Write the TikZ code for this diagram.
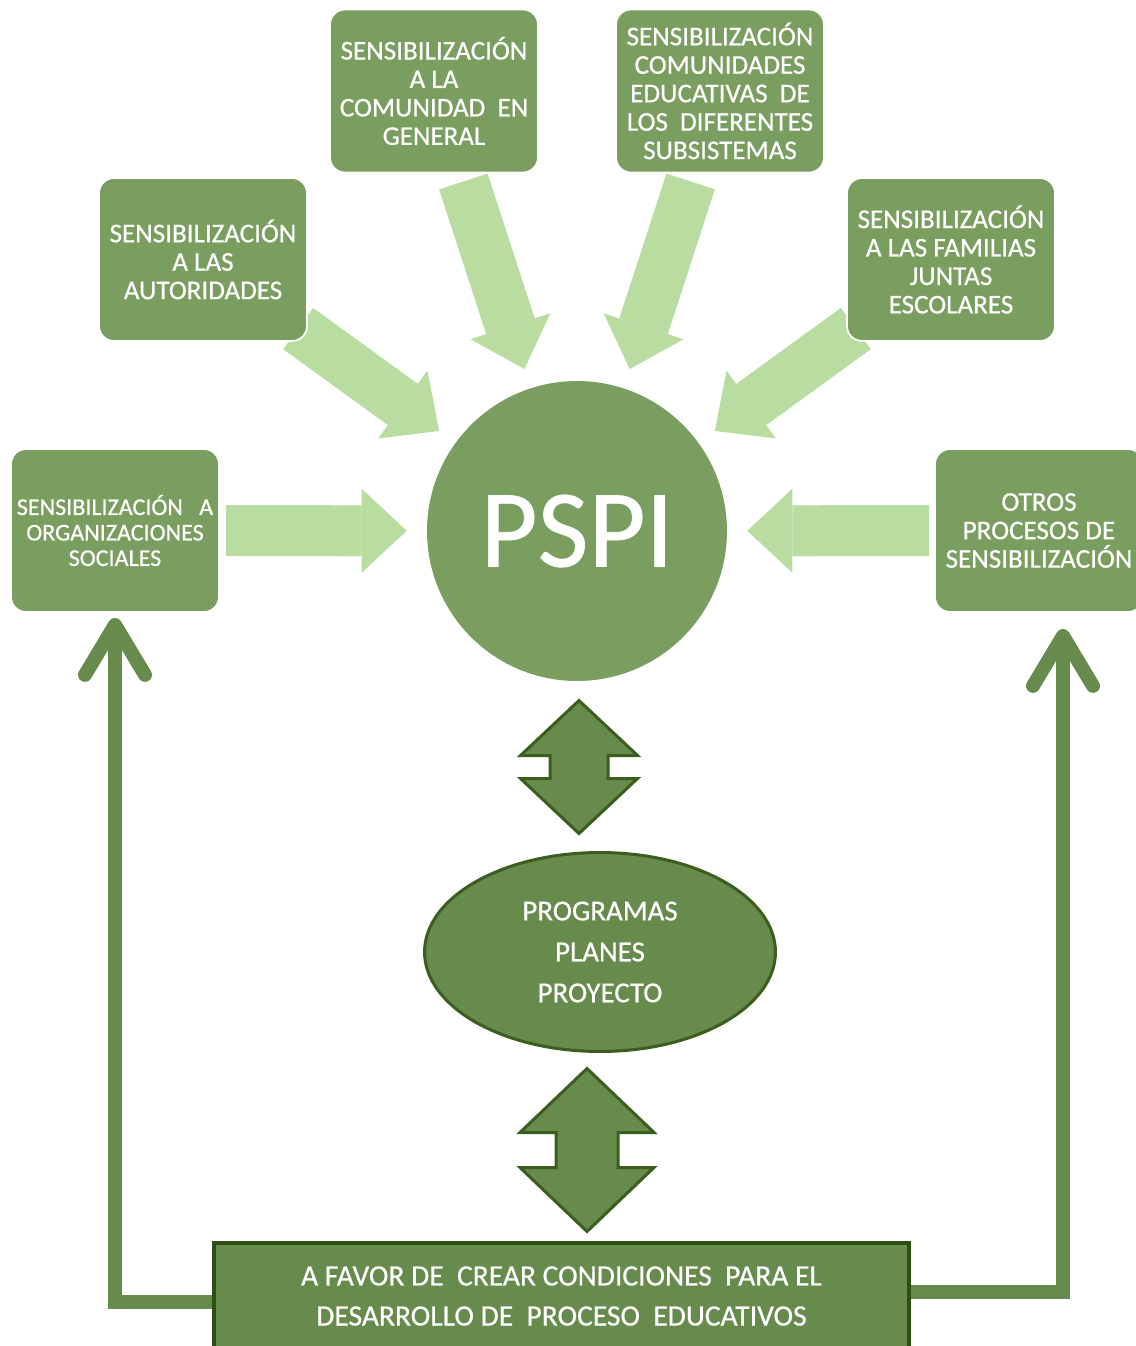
\documentclass[tikz,border=0pt]{standalone}
\usepackage{fontspec}
\setmainfont{Carlito}[FakeBold=0.6]
\usepackage{xcolor}
\usepackage{tikz}
\usetikzlibrary{arrows.meta, calc, shapes.geometric, backgrounds}
\definecolor{boxgreen}{RGB}{122,158,95}
\definecolor{palegreen}{RGB}{185,221,161}
\definecolor{midgreen}{RGB}{103,139,76}
\definecolor{darkgreen}{RGB}{59,94,31}
\definecolor{edgegreen}{RGB}{44,79,20}
\tikzset{
  sensbox/.style={
    rectangle, rounded corners=0.3cm, fill=boxgreen, draw=white, line width=1pt,
    minimum width=4.16cm, minimum height=3.26cm, inner sep=0pt,
    text=white, align=center, font=\fontsize{15.4}{16.2}\selectfont
  },
  hub/.style={circle, fill=boxgreen, minimum size=6cm, text=white,
    font=\fontsize{63}{63}\selectfont},
  plans/.style={ellipse, fill=midgreen, draw=darkgreen, line width=0.06cm,
    minimum width=7.02cm, minimum height=3.98cm, text=white, align=center,
    font=\fontsize{16.5}{23.3}\selectfont},
  goal/.style={rectangle, fill=midgreen, draw=edgegreen, line width=0.08cm,
    minimum width=13.9cm, minimum height=2.12cm, text=white, align=center,
    font=\fontsize{16.8}{22.8}\selectfont},
  fatarrow/.style={draw=palegreen, line width=1.02cm,
    -{Triangle[length=0.9cm, width=1.68cm, line width=0pt]}, shorten >=0.4cm},
  loopline/.style={draw=midgreen, line width=0.28cm,
    -{Straight Barb[length=1cm, width=1.2cm, round]}},
  dblarrow/.style={fill=midgreen, draw=darkgreen, line width=0.06cm},
  pics/updown/.style n args={4}{code={
    \filldraw[dblarrow] (0,-#2-#4/2) -- (#1,-#4/2) -- (#3,-#4/2) -- (#3,#4/2)
      -- (#1,#4/2) -- (0,#2+#4/2) -- (-#1,#4/2) -- (-#3,#4/2) -- (-#3,-#4/2)
      -- (-#1,-#4/2) -- cycle;
  }},
}

\begin{document}
\begin{tikzpicture}[x=0.02cm, y=-0.02cm]
  \useasboundingbox (0,0) rectangle (1136,1346);
  \clip (0,0) rectangle (1136,1346);

  % sensitisation boxes
  \node[sensbox] (comgen) at (434,91) {SENSIBILIZACIÓN\\A LA\\COMUNIDAD\ \ EN\\GENERAL};
  \node[sensbox] (subsis) at (720,91) {SENSIBILIZACIÓN\\COMUNIDADES\\EDUCATIVAS\ \ DE\\LOS\ \ DIFERENTES\\SUBSISTEMAS};
  \node[sensbox] (aut) at (203,259.5) {SENSIBILIZACIÓN\\A LAS\\AUTORIDADES};
  \node[sensbox] (fam) at (951,259.5) {SENSIBILIZACIÓN\\A LAS FAMILIAS\\JUNTAS\\ESCOLARES};
  \node[sensbox, font=\fontsize{13.7}{14.5}\selectfont] (org) at (115,530.5) {SENSIBILIZACIÓN\ \ \ A\\ORGANIZACIONES\\SOCIALES};
  \node[sensbox] (otros) at (1039,530.5) {OTROS\\PROCESOS DE\\SENSIBILIZACIÓN};

  % centre, plans, goal
  \node[hub] (pspi) at (577,531) {PSPI};
  \node[plans] (prog) at (600,952) {PROGRAMAS\\PLANES\\PROYECTO};
  \node[goal] (bot) at (561.5,1296) {A FAVOR DE\ \ CREAR CONDICIONES\ \ PARA EL\\DESARROLLO DE\ \ PROCESO\ \ EDUCATIVOS};

  \pic at (579,767) {updown={58.5}{55}{29}{23}};
  \pic at (587,1150) {updown={67}{64}{31}{35}};

  \begin{scope}[on background layer]
    \draw[fatarrow, shorten <=0.12cm] (org) -- (pspi);
    \draw[fatarrow, shorten <=0.1cm] (otros) -- (pspi);
    \draw[fatarrow, shorten <=-0.24cm] (aut) -- (pspi);
    \draw[fatarrow, shorten <=-0.24cm] (fam) -- (pspi);
    \draw[fatarrow, shorten <=0.17cm] (comgen) -- (pspi);
    \draw[fatarrow, shorten <=0.17cm] (subsis) -- (pspi);
    % feedback lines
    \draw[loopline, shorten >=0.1cm] ([yshift=-0.12cm]bot.west) -| (org.south);
    \draw[loopline, shorten >=0.32cm] ([yshift=0.08cm]bot.east) -| ([xshift=0.48cm]otros.south);
  \end{scope}
\end{tikzpicture}
\end{document}
